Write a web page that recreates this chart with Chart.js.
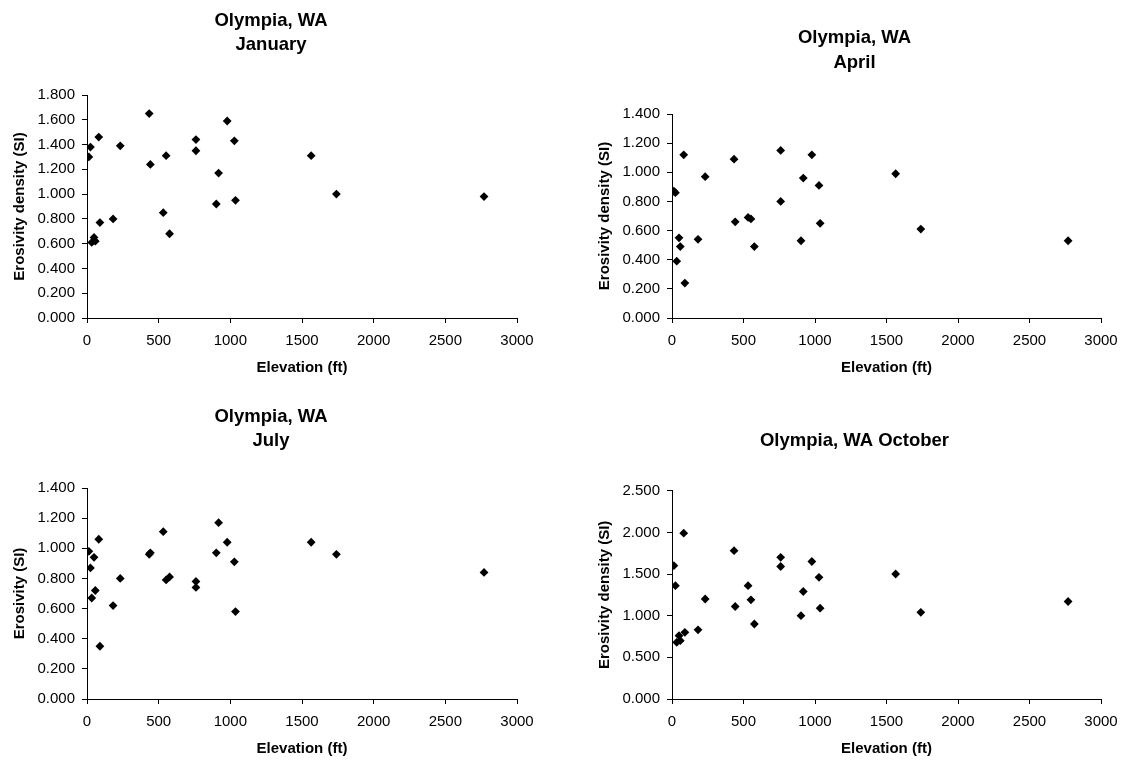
<!DOCTYPE html>
<html>
<head>
<meta charset="utf-8">
<script src="https://cdn.jsdelivr.net/npm/chart.js@4/dist/chart.umd.min.js"></script>
<style>
  html, body { margin: 0; padding: 0; background: #fff; }
  body { width: 1122px; height: 760px; position: relative; overflow: hidden; }
  canvas { position: absolute; }
</style>
</head>
<body>
<canvas id="cJan" width="542" height="380" style="left:0px;top:0px"></canvas>
<canvas id="cApr" width="533" height="380" style="left:588px;top:0px"></canvas>
<canvas id="cJul" width="542" height="380" style="left:0px;top:380px"></canvas>
<canvas id="cOct" width="533" height="380" style="left:588px;top:380px"></canvas>
<script>
// Station elevations (ft) - shared by all four panels
const elevation = [13, 24, 33, 49, 58, 82, 90, 182, 232, 434, 442, 532, 552, 576, 760, 760, 902, 918, 978, 1028, 1036, 1564, 1740, 2770];

// Erosivity density (SI) per month
const january = [1.30, 1.38, 0.61, 0.65, 0.62, 1.46, 0.77, 0.80, 1.39, 1.65, 1.24, 0.85, 1.31, 0.68, 1.44, 1.35, 0.92, 1.17, 1.59, 1.43, 0.95, 1.31, 1.00, 0.98];
const april   = [0.87, 0.86, 0.39, 0.55, 0.49, 1.12, 0.24, 0.54, 0.97, 1.09, 0.66, 0.69, 0.68, 0.49, 1.15, 0.80, 0.53, 0.96, 1.12, 0.91, 0.65, 0.99, 0.61, 0.53];
const july    = [0.98, 0.87, 0.67, 0.94, 0.72, 1.06, 0.35, 0.62, 0.80, 0.96, 0.97, 1.11, 0.79, 0.81, 0.78, 0.74, 0.97, 1.17, 1.04, 0.91, 0.58, 1.04, 0.96, 0.84];
const october = [1.60, 1.36, 0.68, 0.76, 0.70, 1.99, 0.80, 0.83, 1.20, 1.78, 1.11, 1.36, 1.19, 0.90, 1.70, 1.59, 1.00, 1.29, 1.65, 1.46, 1.09, 1.50, 1.04, 1.17];

// Axis ranges / tick steps
const xRange = [0, 3000];
const xStep = 500;
const yMaxJan = 1.8, yMaxApr = 1.4, yMaxJul = 1.4, yMaxOct = 2.5;
const yStepJan = 0.2, yStepApr = 0.2, yStepJul = 0.2, yStepOct = 0.5;

// Titles
const titleJan = ["Olympia, WA", "January"];
const titleApr = ["Olympia, WA", "April"];
const titleJul = ["Olympia, WA", "July"];
const titleOct = ["Olympia, WA October"];
const xTitle = "Elevation (ft)";
const yTitleDensity = "Erosivity density (SI)";
const yTitleJul = "Erosivity (SI)";

const FONT = "'Liberation Sans', Arial, Helvetica, sans-serif";

function makeChart(id, values, title, yTitle, yMax, yStep, L) {
  const pts = elevation.map((e, i) => ({ x: e, y: values[i] }));
  return new Chart(document.getElementById(id), {
    type: 'scatter',
    data: {
      datasets: [{
        data: pts,
        pointStyle: 'rectRot',
        pointRadius: 4.4,
        pointHoverRadius: 4.4,
        backgroundColor: '#000',
        borderColor: '#000',
        borderWidth: 0
      }]
    },
    options: {
      responsive: false,
      animation: false,
      events: [],
      layout: { padding: 0 },
      plugins: {
        legend: { display: false },
        tooltip: { enabled: false },
        title: {
          display: true,
          text: title,
          color: '#000',
          font: { family: FONT, size: 18.5, weight: 'bold', lineHeight: 24.3 / 18.5 },
          padding: { top: L.tTop, bottom: L.tBottom }
        }
      },
      scales: {
        x: {
          type: 'linear',
          min: xRange[0],
          max: xRange[1],
          ticks: {
            stepSize: xStep,
            color: '#000',
            padding: 9,
            maxRotation: 0,
            font: { family: FONT, size: 15 },
            callback: v => String(v)
          },
          grid: { display: true, drawOnChartArea: false, drawTicks: true, tickLength: 5, color: '#000', lineWidth: 1 },
          border: { display: true, color: '#000', width: 1 },
          title: {
            display: true,
            text: xTitle,
            color: '#000',
            font: { family: FONT, size: 15, weight: 'bold' },
            padding: { top: 0, bottom: L.xtBottom }
          },
          afterFit: s => { s.height = L.xHeight; s.paddingRight = L.xPadRight; }
        },
        y: {
          type: 'linear',
          min: 0,
          max: yMax,
          ticks: {
            stepSize: yStep,
            color: '#000',
            padding: 7,
            font: { family: FONT, size: 15 },
            callback: v => Number(v).toFixed(3)
          },
          grid: { display: true, drawOnChartArea: false, drawTicks: true, tickLength: 5, color: '#000', lineWidth: 1 },
          border: { display: true, color: '#000', width: 1 },
          title: {
            display: true,
            text: yTitle,
            color: '#000',
            font: { family: FONT, size: 15, weight: 'bold' },
            padding: { top: L.ytTop, bottom: 0 }
          },
          afterFit: s => { s.width = L.yWidth; }
        }
      }
    }
  });
}

makeChart('cJan', january, titleJan, yTitleDensity, yMaxJan, yStepJan,
  { tTop: 8.55, tBottom: 37.85, xHeight: 62, xPadRight: 25, xtBottom: 3, yWidth: 87, ytTop: 11 });
makeChart('cApr', april, titleApr, yTitleDensity, yMaxApr, yStepApr,
  { tTop: 26.15, tBottom: 39.25, xHeight: 62, xPadRight: 20, xtBottom: 3, yWidth: 84, ytTop: 8 });
makeChart('cJul', july, titleJul, yTitleJul, yMaxJul, yStepJul,
  { tTop: 24.35, tBottom: 35.05, xHeight: 61, xPadRight: 25, xtBottom: 2, yWidth: 87, ytTop: 11 });
makeChart('cOct', october, titleOct, yTitleDensity, yMaxOct, yStepOct,
  { tTop: 48.55, tBottom: 37.85, xHeight: 61, xPadRight: 20, xtBottom: 2, yWidth: 84, ytTop: 8 });
</script>
</body>
</html>
